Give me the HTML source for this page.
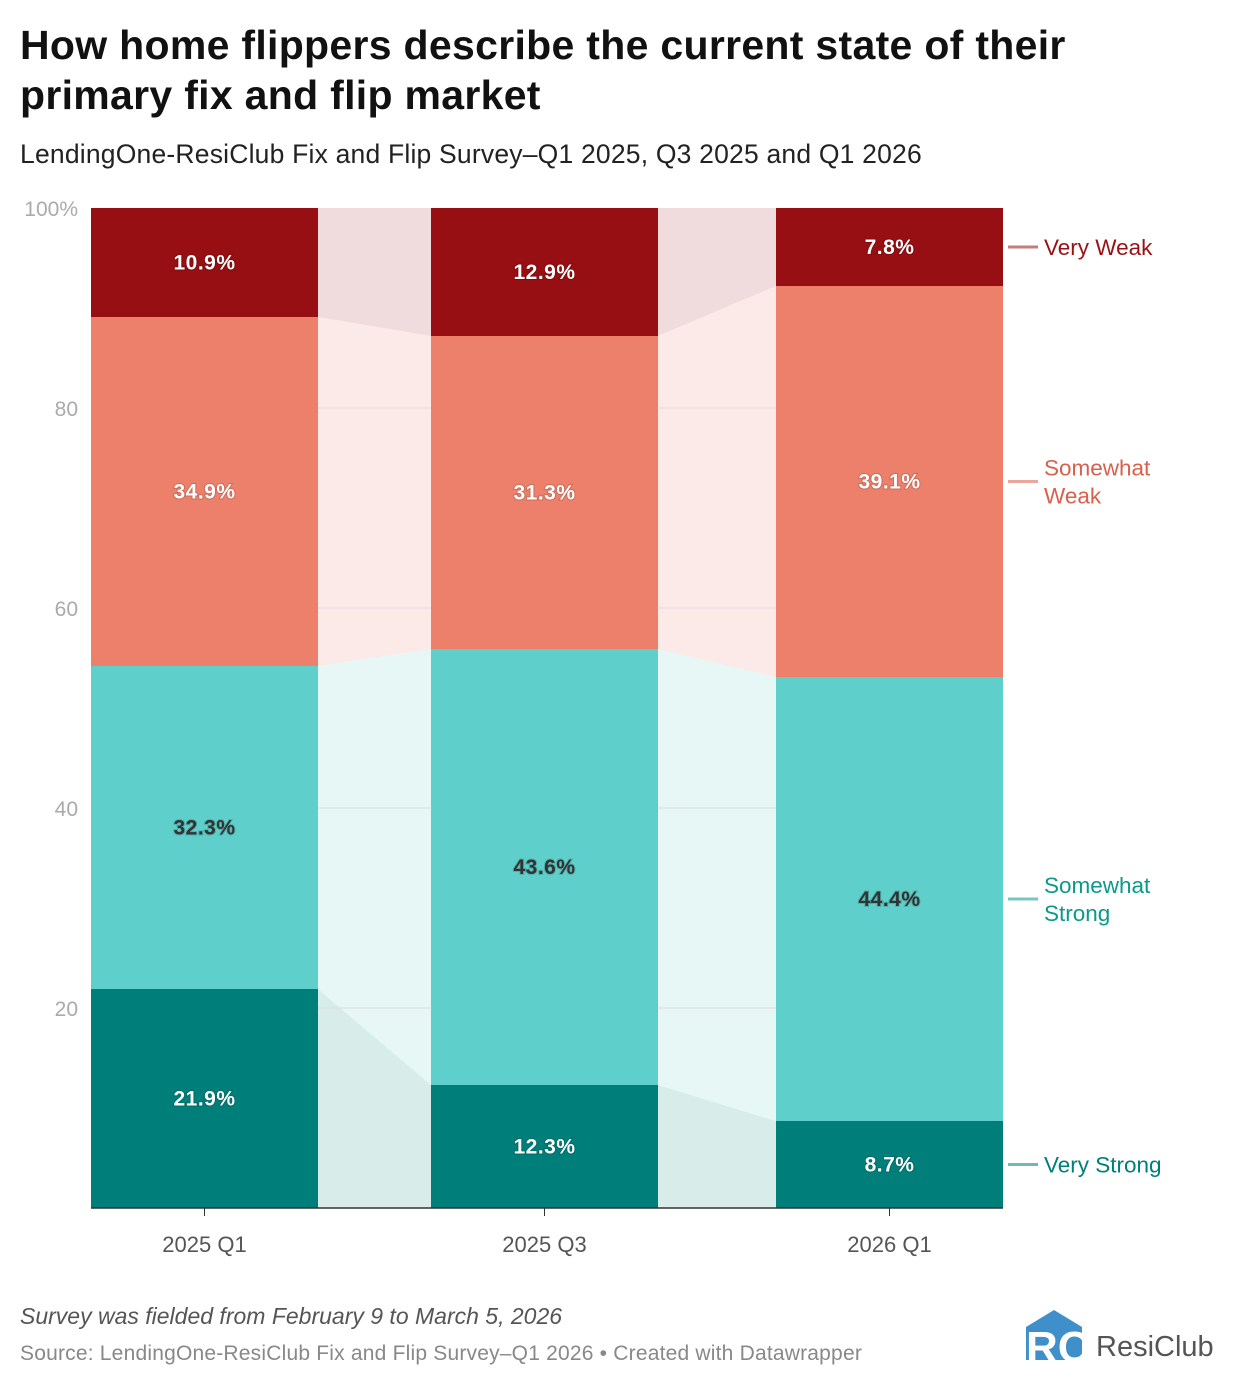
<!DOCTYPE html>
<html><head><meta charset="utf-8">
<style>
body{margin:0;background:#fff;font-family:"Liberation Sans",Roboto,sans-serif;}
#wrap{position:relative;width:1240px;height:1388px;overflow:hidden;}
h1{position:absolute;left:20px;top:20px;margin:0;font-size:41px;line-height:50px;font-weight:bold;color:#111;width:1100px;letter-spacing:0.3px}
.sub{position:absolute;left:20px;top:139px;font-size:26.5px;color:#222;letter-spacing:0.2px}
.note{position:absolute;left:20px;top:1303px;font-size:23px;font-style:italic;color:#555;letter-spacing:0px}
.src{position:absolute;left:20px;top:1342px;font-size:21px;color:#888;letter-spacing:0.2px}
</style></head><body>
<div id="wrap">
<h1>How home flippers describe the current state of their primary fix and flip market</h1>
<div class="sub">LendingOne-ResiClub Fix and Flip Survey–Q1 2025, Q3 2025 and Q1 2026</div>
<svg id="chart" width="1240" height="1388" style="position:absolute;left:0;top:0"></svg>
<div class="note">Survey was fielded from February 9 to March 5, 2026</div>
<div class="src">Source: LendingOne-ResiClub Fix and Flip Survey–Q1 2026 • Created with Datawrapper</div>
<svg width="200" height="70" style="position:absolute;left:1020px;top:1305px">
<polygon points="6,22 34,5 62,22 62,55 6,55" fill="#3f8fca"/>
<text x="6" y="57" font-size="44" font-weight="bold" fill="#fff" font-family="Liberation Sans">RC</text>
<text x="76" y="51" font-size="29" fill="#555" font-family="Liberation Sans">ResiClub</text>
</svg>
</div>
<script>
const categories=["2025 Q1","2025 Q3","2026 Q1"];
const seriesNames=["Very Strong","Somewhat Strong","Somewhat Weak","Very Weak"];
const veryStrong=[21.9,12.3,8.7];
const somewhatStrong=[32.3,43.6,44.4];
const somewhatWeak=[34.9,31.3,39.1];
const veryWeak=[10.9,12.9,7.8];
const yTicks=[0,20,40,60,80,100];
const yTickLabels=["","20","40","60","80","100%"];

const series=[veryStrong,somewhatStrong,somewhatWeak,veryWeak];
const barCol=["#007f7a","#5ecfca","#ec806b","#970f12"];
const conCol=["#d8ecea","#e6f7f6","#fbeae7","#f0dcdc"];
const lblCol=["#007f7a","#0a9a8a","#d9604b","#9b1013"];
const txtCol=["#fff","#333","#fff","#fff"];
const svg=document.getElementById('chart');
const NS="http://www.w3.org/2000/svg";
const y0=1208,y1=208;
function y(v){return y0-(v/100)*(y0-y1);}
const barLefts=[91,431,776],barW=227;
function x(i){return barLefts[i];}
function mk(t,a){const e=document.createElementNS(NS,t);for(const k in a)e.setAttribute(k,a[k]);svg.appendChild(e);return e;}
const cum=categories.map((c,i)=>{let s=0;return series.map(sr=>{const b=s;s+=sr[i];return [b,s];});});
for(let i=0;i<categories.length-1;i++){
  series.forEach((sr,j)=>{
    const a=cum[i][j],b=cum[i+1][j];
    const xa=x(i)+barW,xb=x(i+1);
    const p=mk('polygon',{points:`${xa},${y(Math.min(a[1],100))} ${xb},${y(Math.min(b[1],100))} ${xb},${y(b[0])} ${xa},${y(a[0])}`,fill:conCol[j]});
    
    
  });
}
yTicks.forEach((t,k)=>{
  if(t>0&&t<100){const l=mk('line',{x1:91,x2:1003,y1:y(t),y2:y(t),stroke:'#dcdcdc','stroke-width':1});
  }
  const tx=mk('text',{x:78,y:y(t)+8,'text-anchor':'end','font-size':21,fill:'#aaa'});
  tx.textContent=yTickLabels[k];
  
});
categories.forEach((c,i)=>{
  series.forEach((sr,j)=>{
    const [b,t]=cum[i][j];
    const r=mk('rect',{x:x(i),y:y(Math.min(t,100)),width:barW,height:y(b)-y(Math.min(t,100)),fill:barCol[j]});
    
    
    const tx=mk('text',{x:x(i)+barW/2,y:(y(b)+y(Math.min(t,100)))/2+7,'text-anchor':'middle','font-size':21,'font-weight':'bold',fill:txtCol[j],style:'paint-order:stroke;stroke:rgba(0,0,0,0.15);stroke-width:2px;letter-spacing:0.5px'});
    tx.textContent=sr[i].toFixed(1)+'%';
    
    
  });
  const tk=mk('line',{x1:x(i)+barW/2,x2:x(i)+barW/2,y1:y0,y2:y0+8,stroke:'#333'});
  
  const xl=mk('text',{x:x(i)+barW/2,y:y0+44,'text-anchor':'middle','font-size':22,fill:'#555'});
  xl.textContent=c;
  
});
const ax=mk('line',{x1:91,x2:1003,y1:y0,y2:y0,stroke:'#333','stroke-width':1.5});

const last=categories.length-1;
const lblLines=[["Very Strong"],["Somewhat","Strong"],["Somewhat","Weak"],["Very Weak"]];
series.forEach((sr,j)=>{
  const [b,t]=cum[last][j];const cy=(y(b)+y(Math.min(t,100)))/2;
  const l=mk('line',{x1:1008,x2:1038,y1:cy,y2:cy,stroke:lblCol[j],'stroke-width':3,opacity:0.55});
  
  const lines=lblLines[j];
  lines.forEach((s,k)=>{
    const tx=mk('text',{x:1044,y:cy+8+(k-(lines.length-1)/2)*28,'font-size':22.5,fill:lblCol[j]});
    tx.textContent=s;
    
  });
});
</script>
</body></html>
